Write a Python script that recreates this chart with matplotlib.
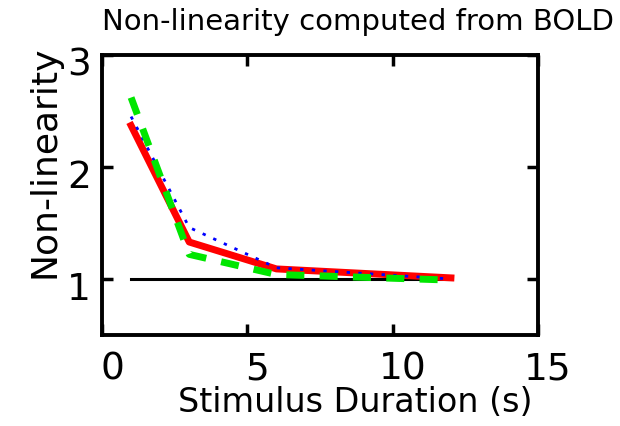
import numpy as np
import matplotlib
matplotlib.use('Agg')
import matplotlib.pyplot as plt
import matplotlib.transforms as mtransforms

# 刺激时长 (s)
durations = [1, 3, 6, 12]
red_vals = [2.37, 1.33, 1.09, 1.01]
blue_vals = [2.45, 1.46, 1.10, 1.00]
green_vals = [2.62, 1.22, 1.04, 0.99]
ref_x = [1, 12]
ref_y = [1, 1]

plt.rcParams['font.family'] = ['DejaVu Sans']

fig = plt.figure(figsize=(6.2, 4.26), dpi=100)
ax = fig.add_axes([0.1645, 0.2136, 0.7035, 0.6574])

ax.plot(ref_x, ref_y, color='black', lw=2.2, zorder=1)
ax.plot(durations, red_vals, color='red', lw=5, zorder=2)
ax.plot(durations, blue_vals, color='blue', lw=2, ls=(0, (1.2, 3)), zorder=3)
ax.plot(durations, green_vals, color='#00e600', lw=5, ls=(0, (2.6, 2.2)), zorder=4)

ax.set_xlim(0, 15)
ax.set_ylim(0.5, 3)
ax.set_xticks([0, 5, 10, 15])
ax.set_yticks([1, 2, 3])
ax.tick_params(direction='in', length=8, width=2.5, labelsize=27,
               top=True, right=True)
ax.tick_params(axis='x', pad=12)
ax.tick_params(axis='y', pad=8)
for s in ax.spines.values():
    s.set_linewidth(2.8)

# 标签稍微偏移
dx = mtransforms.ScaledTranslation(0.10, 0, fig.dpi_scale_trans)
for lab in ax.get_xticklabels():
    lab.set_transform(lab.get_transform() + dx)
dy = mtransforms.ScaledTranslation(0, -0.07, fig.dpi_scale_trans)
for lab in ax.get_yticklabels():
    lab.set_transform(lab.get_transform() + dy)

ax.set_title('Non-linearity computed from BOLD', fontsize=21, pad=18, x=0.587)
ax.set_xlabel('Stimulus Duration (s)', fontsize=24, labelpad=-1, x=0.58)
ax.set_ylabel('Non-linearity', fontsize=26, labelpad=4, y=0.618)

fig.savefig('out.png', dpi=100)
